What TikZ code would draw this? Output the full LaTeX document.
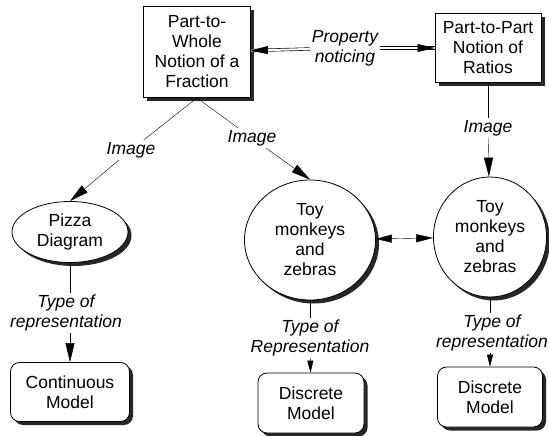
\documentclass[tikz,border=0pt]{standalone}
\usepackage{fontspec}
\setmainfont{Liberation Sans}
\usetikzlibrary{arrows.meta,shapes.geometric,shadows}

\begin{document}
\begin{tikzpicture}[x=1pt,y=-1pt,
    every node/.style={font=\fontsize{17.5}{20}\selectfont, align=center},
    concept/.style={draw, fill=white, line width=0.8pt,
      drop shadow={shadow xshift=3.5pt, shadow yshift=-3.5pt, fill=black!85, opacity=1}},
    notion/.style={concept, rectangle, inner sep=0pt},
    model/.style={concept, rectangle, rounded corners=9pt, inner sep=0pt},
    oval/.style={concept, ellipse, inner sep=0pt},
    link/.style={font=\fontsize{17.5}{20}\selectfont\itshape, inner sep=2pt},
    dbl/.style={double, double distance=2pt, line width=0.6pt},
    tip/.style={white, -{Triangle[black, length=17pt, width=8pt]}},
    arr/.style={-{Triangle[length=19pt, width=9pt]}},
    smallarr/.style={-{Triangle[length=12pt, width=6pt]}},
    biarr/.style={{Triangle[length=16pt, width=8pt]}-{Triangle[length=17pt, width=8pt]}}]
  \useasboundingbox (0,0) rectangle (549,436);
    \node[notion, minimum width=107pt, minimum height=91pt] (a) at (197,52) {Part-to-\\Whole\\Notion of a\\Fraction};
    \node[notion, minimum width=106pt, minimum height=69pt] (b) at (488,48) {Part-to-Part\\Notion of\\Ratios};
    \node[link] (p) at (345,48) {Property\\noticing};
    \draw [dbl] (p) -- (a);
    \draw [tip] (p) -- (a);
    \draw [dbl] (p) -- (b);
    \draw [tip] (p) -- (b);
    \node[oval, minimum width=116pt, minimum height=61pt] (c) at (70,232) {Pizza\\Diagram};
    \node[oval, minimum width=131pt, minimum height=120pt] (d) at (310,240) {Toy\\monkeys\\and\\zebras};
    \node[oval, minimum width=113pt, minimum height=120pt] (e) at (490,237) {Toy\\monkeys\\and\\zebras};
    \node[link] (i1) at (131,150) {Image};
    \node[link] (i2) at (252,138) {Image};
    \node[link] (i3) at (488,128) {Image};
    \draw (a.south) -- (i1);
    \draw [arr] (i1) -- (c.north);
    \draw (a.south) -- (i2);
    \draw [arr] (i2) -- (d.north);
    \draw (b) -- (i3);
    \draw [arr] (i3) -- (e);
    \draw [biarr] (d) -- (e);
    \node[link] (t1) at (66,313) {Type of\\representation};
    \node[link] (t2) at (310,338) {Type of\\Representation};
    \node[link] (t3) at (492,333) {Type of\\representation};
    \node[model, minimum width=119pt, minimum height=59pt] (f) at (70,392) {Continuous\\Model};
    \node[model, minimum width=106pt, minimum height=60pt] (g) at (311,403) {Discrete\\Model};
    \node[model, minimum width=105pt, minimum height=60pt] (h) at (490,397) {Discrete\\Model};
    \draw (c.south) -- (c.south |- t1.north);
    \draw [arr] (f.north |- t1.south) -- (f.north);
    \draw (d) -- (t2);
    \draw [smallarr] (t2) -- (g);
    \draw (e.south) -- (e.south |- t3.north);
    \draw [smallarr] (h.north |- t3.south) -- (h.north);
\end{tikzpicture}
\end{document}
